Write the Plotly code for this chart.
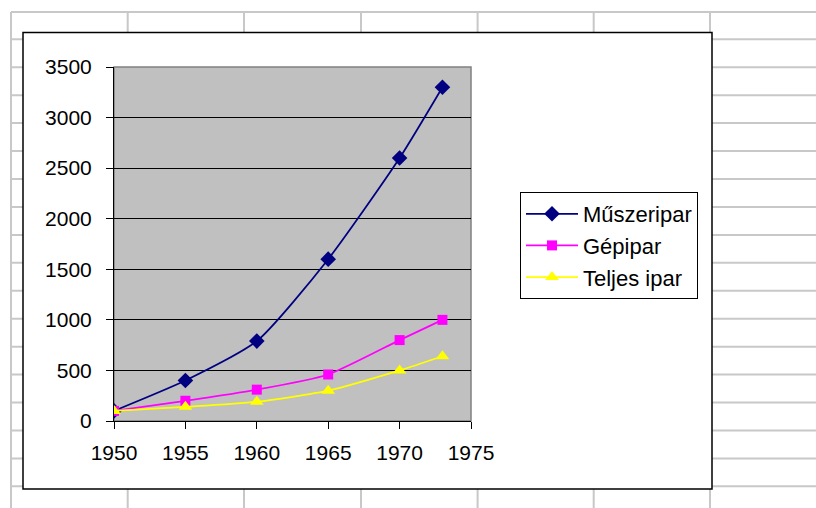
import plotly.graph_objects as go

years = [1950, 1955, 1960, 1965, 1970, 1973]
muszeripar = [100, 400, 790, 1600, 2600, 3300]
gepipar = [100, 200, 310, 460, 800, 1000]
teljes_ipar = [100, 140, 190, 300, 500, 640]
series_names = ["Műszeripar", "Gépipar", "Teljes ipar"]
x_ticks = [1950, 1955, 1960, 1965, 1970, 1975]
y_ticks = [0, 500, 1000, 1500, 2000, 2500, 3000, 3500]

W, H = 816, 508
FONT = "Liberation Sans, Arial, sans-serif"

def px(x):
    return x / W

def py(y):
    return 1 - y / H

fig = go.Figure()
styles = [("#000080", "diamond", 12), ("#FF00FF", "square", 10), ("#FFFF00", "triangle-up", 12)]
for name, vals, (col, sym, sz) in zip(series_names, [muszeripar, gepipar, teljes_ipar], styles):
    fig.add_trace(go.Scatter(
        x=years, y=vals, name=name, mode="lines+markers",
        line=dict(color=col, width=1.75, shape="spline", smoothing=0.6),
        marker=dict(symbol=sym, size=sz, color=col),
        legendgroup=name,
    ))

shapes = []
grid_col = "#c8c8c8"
# spreadsheet gridlines
row_lines = [12] + [39.3 + 27.94 * k for k in range(17)]
for y in row_lines:
    shapes.append(dict(type="line", xref="paper", yref="paper", x0=px(11), x1=1.0,
                       y0=py(y), y1=py(y), line=dict(color=grid_col, width=2), layer="below"))
for x in [11, 127.7, 244, 361, 477.6, 593.7, 710]:
    shapes.append(dict(type="line", xref="paper", yref="paper", x0=px(x), x1=px(x),
                       y0=py(12), y1=0, line=dict(color=grid_col, width=2), layer="below"))
# chart box
shapes.append(dict(type="rect", xref="paper", yref="paper", x0=px(23), x1=px(712),
                   y0=py(489), y1=py(32.5), fillcolor="white",
                   line=dict(color="black", width=1.5), layer="below"))
# plot area background
shapes.append(dict(type="rect", xref="paper", yref="paper", x0=px(114), x1=px(471),
                   y0=py(421), y1=py(67), fillcolor="#c0c0c0",
                   line=dict(color="#808080", width=1.5), layer="below"))

fig.update_layout(
    width=W, height=H, autosize=False,
    margin=dict(l=0, r=0, t=0, b=0, pad=0, autoexpand=False),
    paper_bgcolor="white",
    plot_bgcolor="rgba(0,0,0,0)",
    font=dict(family=FONT, size=21, color="black"),
    shapes=shapes,
    showlegend=True,
    legend=dict(
        x=px(520), y=py(192), xanchor="left", yanchor="top",
        bgcolor="white", bordercolor="black", borderwidth=1,
        font=dict(family=FONT, size=22, color="black"),
        traceorder="grouped", tracegroupgap=0, itemwidth=52,
    ),
    xaxis=dict(
        domain=[px(114), px(471)], range=[1950, 1975], automargin=False,
        tickmode="array", tickvals=x_ticks, ticks="outside", ticklen=7,
        tickcolor="black", showline=True, linecolor="black", linewidth=1,
        showgrid=False, zeroline=False, ticklabelstandoff=6,
    ),
    yaxis=dict(
        domain=[py(421), py(67)], range=[0, 3500], automargin=False,
        tickmode="array", tickvals=y_ticks, ticks="outside", ticklen=7,
        tickcolor="black", showline=True, linecolor="black", linewidth=1,
        showgrid=True, gridcolor="black", gridwidth=1, zeroline=False,
        ticklabelstandoff=10,
    ),
)

fig.write_html("out.html", config={"displayModeBar": False},
               post_script="document.body.style.margin='0';document.body.style.overflow='hidden';")
